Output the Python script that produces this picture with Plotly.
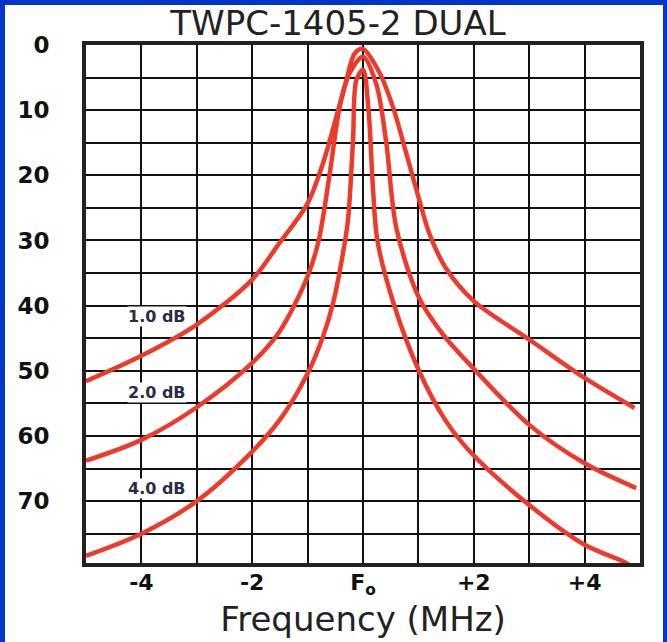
import plotly.graph_objects as go

# ---- data ----
title_text = "TWPC-1405-2 DUAL"
x_title = "Frequency (MHz)"

# curve with 1.0 dB label (widest)
c1_freq = [-5, -4, -3, -2, -1.5, -1, -0.72, -0.48, -0.3, -0.15, 0, 0.3, 0.54, 0.78, 1.0, 1.2, 1.5, 2, 3, 4, 4.9]
c1_db = [51.6, 47.7, 42.9, 36.0, 30.3, 24.3, 18.1, 11.0, 5.4, 1.3, 0.6, 4.3, 9.5, 16.6, 23.3, 29.0, 34.3, 39.3, 45.2, 51.1, 55.7]

# curve with 2.0 dB label
c2_freq = [-5, -4, -3, -2, -1.5, -1, -0.8, -0.6, -0.42, -0.24, 0, 0.24, 0.42, 0.6, 1.0, 1.45, 2.0, 3, 4, 4.93]
c2_db = [63.8, 60.6, 55.6, 48.8, 43.9, 35.5, 30.0, 19.7, 9.5, 4.3, 1.8, 6.0, 15.0, 28.0, 38.6, 44.5, 49.7, 58.3, 64.2, 68.0]

# curve with 4.0 dB label (narrowest)
c3_freq = [-5, -4, -3, -2, -1.5, -1, -0.72, -0.54, -0.36, -0.27, -0.18, -0.12, 0, 0.1, 0.18, 0.26, 0.55, 1.0, 1.48, 1.93, 3, 4, 4.75, 4.9]
c3_db = [78.4, 75.0, 70.0, 62.4, 57.5, 50.4, 44.7, 39.6, 31.9, 26.8, 14.6, 5.4, 3.8, 10.0, 22.0, 30.0, 39.6, 49.8, 57.5, 62.4, 70.6, 76.7, 79.5, 80.5]

curve_labels = ["1.0 dB", "2.0 dB", "4.0 dB"]
label_freq = [-3.72, -3.72, -3.72]
label_db = [41.6, 53.4, 68.1]

x_tickvals = [-4, -2, 0, 2, 4]
x_ticktext = ["-4", "-2", "F<sub>o</sub>", "+2", "+4"]
x_gridvals = [-5, -4, -3, -2, -1, 0, 1, 2, 3, 4, 5]
y_tickvals = [0, 10, 20, 30, 40, 50, 60, 70]
y_ticktext = ["0", "10", "20", "30", "40", "50", "60", "70"]
y_gridvals = [0, 5, 10, 15, 20, 25, 30, 35, 40, 45, 50, 55, 60, 65, 70, 75]

# ---- style ----
W, H = 667, 642
ML, MR, MT, MB = 86, 27, 45, 79
RED = "#ee3a2b"
BLUE = "#0634c8"
GRID = "#111111"

fig = go.Figure()
for fx, fy in [(c1_freq, c1_db), (c2_freq, c2_db), (c3_freq, c3_db)]:
    fig.add_trace(go.Scatter(x=fx, y=fy, mode="lines",
                             line=dict(color=RED, width=4.5, shape="spline", smoothing=0.9),
                             showlegend=False, hoverinfo="skip"))

for t, lx, ly in zip(curve_labels, label_freq, label_db):
    fig.add_annotation(x=lx, y=ly, text=t, showarrow=False,
                       font=dict(family="DejaVu Sans", size=16, color="#2a2c48", weight="bold"),
                       bgcolor="white", borderpad=0)

pw = W - ML - MR
ph = H - MT - MB


def px2x(px):
    return (px - ML) / pw


def py2y(py):
    return (H - MB - py) / ph


# blue frame: top, left, right
frame = [(0, 0, W, 5), (0, 0, 5, H), (W - 4, 0, W, H)]
for x0, y0, x1, y1 in frame:
    fig.add_shape(type="rect", xref="paper", yref="paper",
                  x0=px2x(x0), x1=px2x(x1), y0=py2y(y1), y1=py2y(y0),
                  fillcolor=BLUE, line=dict(width=0), layer="above")

fig.update_layout(
    width=W, height=H,
    margin=dict(l=ML, r=MR, t=MT, b=MB, autoexpand=False),
    paper_bgcolor="white", plot_bgcolor="white",
    title=dict(text=title_text, x=338 / W, xref="container", xanchor="center",
               y=1 - 23 / H, yref="container", yanchor="middle",
               font=dict(family="DejaVu Sans", size=34, color="#222222")),
    xaxis=dict(range=[-5, 5], tickmode="array", tickvals=x_tickvals, ticktext=x_ticktext,
               showgrid=True, gridcolor=GRID, gridwidth=1.6, zeroline=False,
               minor=dict(tickmode="array", tickvals=x_gridvals, showgrid=True,
                          gridcolor=GRID, gridwidth=1.6, ticks=""),
               showline=True, mirror=True, linecolor="#222222", linewidth=4,
               ticks="", ticklabelstandoff=-3, automargin=False,
               tickfont=dict(family="DejaVu Sans", size=22, color="#111111", weight="bold"),
               title=dict(text=x_title, standoff=4,
                          font=dict(family="DejaVu Sans", size=34, color="#222222"))),
    yaxis=dict(range=[79.5, 0], tickmode="array", tickvals=y_tickvals, ticktext=y_ticktext,
               showgrid=True, gridcolor=GRID, gridwidth=1.6, zeroline=False,
               minor=dict(tickmode="array", tickvals=y_gridvals, showgrid=True,
                          gridcolor=GRID, gridwidth=1.6, ticks=""),
               showline=True, mirror=True, linecolor="#222222", linewidth=4,
               ticks="", ticklabelstandoff=28, automargin=False,
               tickfont=dict(family="DejaVu Sans", size=23, color="#111111", weight="bold")),
)

fig.write_html("out.html", config={"displayModeBar": False},
               post_script="document.body.style.margin='0';document.body.style.overflow='hidden';")
